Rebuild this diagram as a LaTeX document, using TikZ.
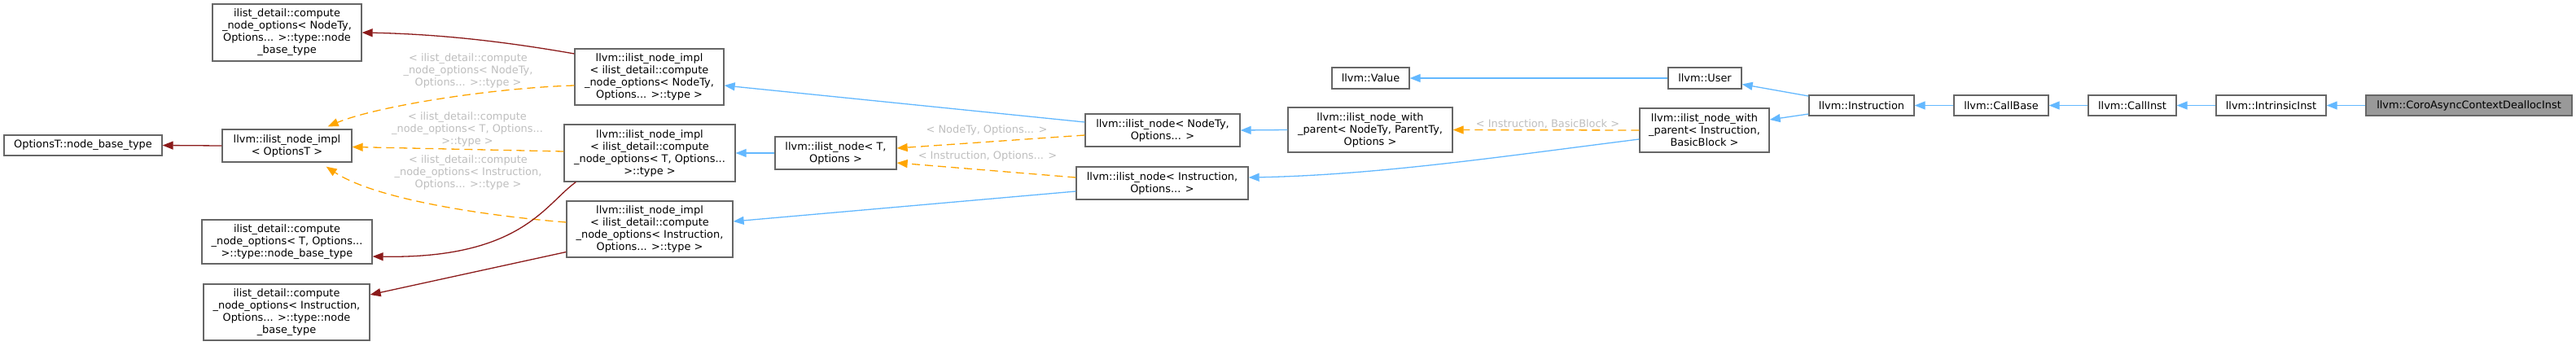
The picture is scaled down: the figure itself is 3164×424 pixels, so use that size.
\documentclass[tikz,border=0pt]{standalone}
\usepackage{fontspec}
\setmainfont{DejaVu Sans}
\usetikzlibrary{arrows.meta,calc}
\definecolor{bordc}{HTML}{666666}
\definecolor{inhblue}{HTML}{63B8FF}
\definecolor{usered}{HTML}{8B1A1A}
\definecolor{tmplorange}{HTML}{FFA500}
\definecolor{lblgrey}{HTML}{BEBEBE}
\definecolor{hlfill}{HTML}{999999}
\begin{document}
\begin{tikzpicture}[x=1pt,y=-1pt,
 cls/.style={draw=bordc, line width=1.3pt, fill=white, inner sep=0pt, align=center, font=\fontsize{12.9}{15}\selectfont, text=black},
 hl/.style={cls, fill=hlfill},
 inh/.style={draw=inhblue, line width=1.3pt, -{Triangle[length=13pt,width=10pt]}},
 usage/.style={draw=usered, line width=1.3pt, -{Triangle[length=13pt,width=10pt]}},
 tmpl/.style={draw=tmplorange, line width=1.3pt, dash pattern=on 10pt off 6pt, -{Triangle[length=13pt,width=10pt]}},
 lbl/.style={text=lblgrey, align=center, inner sep=0pt, font=\fontsize{12.9}{15}\selectfont},
]
\useasboundingbox (0,0) rectangle (3164,424);
% nodes
\node[cls, minimum width=194pt, minimum height=25pt] (obt) at (102,178.5) {OptionsT::node\_base\_type};
\node[cls, minimum width=159pt, minimum height=40pt] (implO) at (352.5,179) {llvm::ilist\_node\_impl\\< OptionsT >};
\node[cls, minimum width=183pt, minimum height=70pt] (cNT) at (352.5,40) {ilist\_detail::compute\\\_node\_options< NodeTy,\\Options... >::type::node\\\_base\_type};
\node[cls, minimum width=209pt, minimum height=54pt] (cT) at (352.5,297) {ilist\_detail::compute\\\_node\_options< T, Options...\\>::type::node\_base\_type};
\node[cls, minimum width=204pt, minimum height=69pt] (cI) at (352,383.5) {ilist\_detail::compute\\\_node\_options< Instruction,\\Options... >::type::node\\\_base\_type};
\node[cls, minimum width=183pt, minimum height=69pt] (implNT) at (797.5,94.5) {llvm::ilist\_node\_impl\\< ilist\_detail::compute\\\_node\_options< NodeTy,\\Options... >::type >};
\node[cls, minimum width=210pt, minimum height=70pt] (implT) at (798,188) {llvm::ilist\_node\_impl\\< ilist\_detail::compute\\\_node\_options< T, Options...\\>::type >};
\node[cls, minimum width=204pt, minimum height=69pt] (implI) at (798,281.5) {llvm::ilist\_node\_impl\\< ilist\_detail::compute\\\_node\_options< Instruction,\\Options... >::type >};
\node[cls, minimum width=149pt, minimum height=40pt] (inT) at (1026.5,188) {llvm::ilist\_node< T,\\Options >};
\node[cls, minimum width=190pt, minimum height=40pt] (inNT) at (1428,160) {llvm::ilist\_node< NodeTy,\\Options... >};
\node[cls, minimum width=211pt, minimum height=40pt] (inI) at (1427.5,225) {llvm::ilist\_node< Instruction,\\Options... >};
\node[cls, minimum width=202pt, minimum height=55pt] (wpNT) at (1683,159.5) {llvm::ilist\_node\_with\\\_parent< NodeTy, ParentTy,\\Options >};
\node[cls, minimum width=95pt, minimum height=26pt] (value) at (1683.5,96) {llvm::Value};
\node[cls, minimum width=159pt, minimum height=54pt] (wpI) at (2093.5,160) {llvm::ilist\_node\_with\\\_parent< Instruction,\\BasicBlock >};
\node[cls, minimum width=90pt, minimum height=26pt] (user) at (2094,96) {llvm::User};
\node[cls, minimum width=129pt, minimum height=25pt] (instr) at (2286.5,129.5) {llvm::Instruction};
\node[cls, minimum width=116pt, minimum height=25pt] (callbase) at (2458,129.5) {llvm::CallBase};
\node[cls, minimum width=108pt, minimum height=25pt] (callinst) at (2619,129.5) {llvm::CallInst};
\node[cls, minimum width=135pt, minimum height=25pt] (intr) at (2789.5,129.5) {llvm::IntrinsicInst};
\node[hl, minimum width=253pt, minimum height=25pt] (coro) at (3032.5,129.5) {llvm::CoroAsyncContextDeallocInst};
% edges
\draw[inh] (coro.west) -- (intr.east);
\draw[inh] (intr.west) -- (callinst.east);
\draw[inh] (callinst.west) -- (callbase.east);
\draw[inh] (callbase.west) -- (instr.east);
\draw[inh] ($(instr.west)+(0,-11.5)$) -- ($(user.east)+(0,7.5)$);
\draw[inh] ($(instr.west)+(0,10.5)$) -- ($(wpI.east)+(0,-13)$);
\draw[inh] (user.west) -- (value.east);
\draw[tmpl] (wpI.west) -- (wpNT.east);
\draw[inh] ($(wpI.west)+(0,11)$) .. controls +(-160,20) and +(160,-3) .. ($(inI.east)+(0,-7)$);
\draw[inh] (wpNT.west) -- (inNT.east);
\draw[inh] ($(inNT.west)+(0,-10)$) -- ($(implNT.east)+(0,10.5)$);
\draw[tmpl] ($(inNT.west)+(0,6)$) -- ($(inT.east)+(0,-6)$);
\draw[tmpl] ($(inI.west)+(0,-7)$) -- ($(inT.east)+(0,12)$);
\draw[inh] ($(inI.west)+(0,10)$) -- ($(implI.east)+(0,-9.5)$);
\draw[inh] (inT.west) -- (implT.east);
\draw[usage] ($(implNT.west)+(0,-28.5)$) .. controls +(-80,-14) and +(100,2) .. (cNT.east);
\draw[tmpl] ($(implNT.west)+(0,10.5)$) .. controls +(-100,3) and +(60,-25) .. ($(implO.north east)+(-30,-3)$);
\draw[tmpl] ($(implT.west)+(0,-2)$) -- ($(implO.east)+(0,1.5)$);
\draw[tmpl] ($(implI.west)+(0,-8.5)$) .. controls +(-100,-8) and +(60,40) .. ($(implO.south east)+(-32,5)$);
\draw[usage] ($(implT.south west)+(15,0)$) .. controls +(-38,27) and +(183,3) .. ($(cT.east)+(0,18)$);
\draw[usage] ($(implI.west)+(0,28)$) -- ($(cI.east)+(0,-21.5)$);
\draw[usage] (implO.west) -- (obt.east);
% labels
\node[lbl] (l1) at (575,87) {< ilist\_detail::compute\\\_node\_options< NodeTy,\\Options... >::type >};
\node[lbl] (l2) at (574,159) {< ilist\_detail::compute\\\_node\_options< T, Options...\\>::type >};
\node[lbl] (l3) at (575,212) {< ilist\_detail::compute\\\_node\_options< Instruction,\\Options... >::type >};
\node[lbl] (l4) at (1212,160) {< NodeTy, Options... >};
\node[lbl] (l5) at (1213,192) {< Instruction, Options... >};
\node[lbl] (l6) at (1901,152) {< Instruction, BasicBlock >};
\end{tikzpicture}
\end{document}
